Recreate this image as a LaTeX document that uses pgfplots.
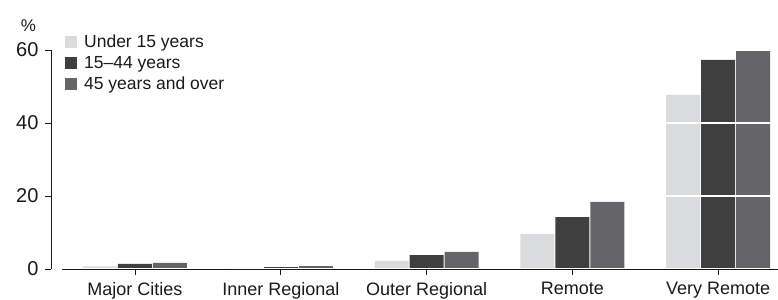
\documentclass[border=0pt]{standalone}
\usepackage{pgfplots}
\pgfplotsset{compat=1.18}
\usepackage{fontspec}
\setmainfont{Liberation Sans}
\definecolor{cA}{HTML}{DADBDD}
\definecolor{cB}{HTML}{3F3F3F}
\definecolor{cC}{HTML}{656567}
\definecolor{txt}{HTML}{1A1A1A}
\begin{document}
\begin{tikzpicture}
\begin{axis}[
  at={(51bp,31bp)}, anchor=south west,
  scale only axis, width=727bp, height=219bp,
  xmin=-0.576, xmax=4.41, ymin=0, ymax=60,
  clip=false,
  axis lines*=left,
  separate axis lines,
  x axis line style={draw=none},
  y axis line style={draw=txt, line width=0.9pt},
  ybar=1bp, bar width=34bp,
  xtick={0,1,2,3,4},
  xticklabels={Major Cities,Inner Regional,Outer Regional,Remote,Very Remote},
  ytick={0,20,40,60},
  /pgf/number format/assume math mode=true,
  tick align=outside,
  major tick length=6bp,
  tick style={draw=txt, line width=0.9pt},
  ymajorgrids, grid style={white, line width=1.2pt},
  axis on top,
  font=\fontsize{18bp}{20bp}\selectfont,
  every tick label/.append style={text=txt},
  yticklabel style={font=\fontsize{20bp}{22bp}\selectfont, xshift=-3bp},
  xticklabel style={yshift=-4bp},
  ylabel={\%},
  ylabel style={rotate=-90, font=\fontsize{17bp}{19bp}\selectfont, at={(axis description cs:-0.031,1)}, anchor=base, yshift=19bp, text=txt},
  legend style={draw=none, fill=none, at={(axis description cs:0.0151,1.09)}, anchor=north west,
    font=\fontsize{17.5bp}{19bp}\selectfont, text=txt,
    row sep=3.5bp, legend cell align=left,
    /tikz/every odd column/.append style={column sep=5bp}},
  legend image code/.code={\fill[#1] (0bp,-6bp) rectangle (12bp,6bp);},
  after end axis/.code={\draw[txt, line width=0.9pt] (axis cs:-0.5,0) -- (axis cs:4.41,0);},
]
\addplot[fill=cA, draw=none] coordinates {(0,0.7) (1,0.3) (2,2.2) (3,9.6) (4,47.7)};
\addplot[fill=cB, draw=none] coordinates {(0,1.4) (1,0.5) (2,3.8) (3,14.2) (4,57.3)};
\addplot[fill=cC, draw=none] coordinates {(0,1.7) (1,0.8) (2,4.7) (3,18.4) (4,60)};
\legend{Under 15 years,15--44 years,45 years and over}
\end{axis}
\node[anchor=base west, text=txt, font=\fontsize{18bp}{20bp}\selectfont] at (10bp,304bp) {A. Home(a) --- 2001};
\pgfresetboundingbox
\path[use as bounding box] (0,0) rectangle (778bp,300bp);
\end{tikzpicture}
\end{document}
